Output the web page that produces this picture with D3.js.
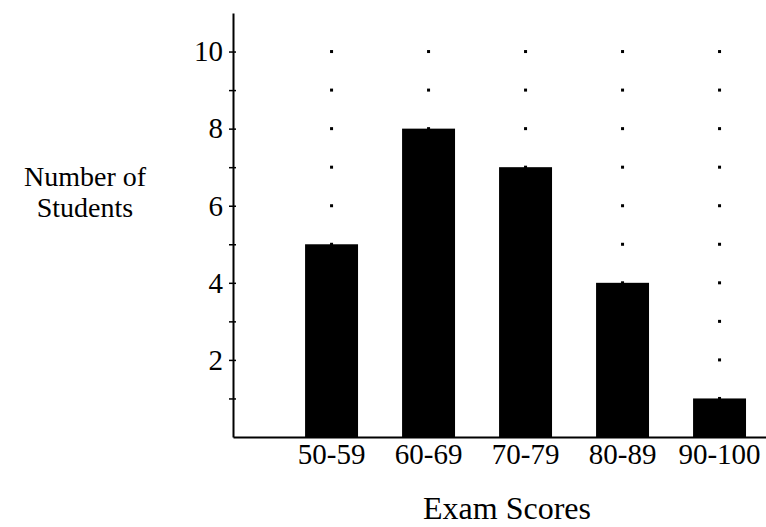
<!DOCTYPE html>
<html>
<head>
<meta charset="utf-8">
<script src="https://d3js.org/d3.v7.min.js"></script>
<style>
  body { margin: 0; background: #fff; }
  text { font-family: "Liberation Serif", "Times New Roman", serif; fill: #000; }
</style>
</head>
<body>
<script>
// Data
const categories = ["50-59", "60-69", "70-79", "80-89", "90-100"];
const counts     = [5, 8, 7, 4, 1];
const yTicks     = [1, 2, 3, 4, 5, 6, 7, 8, 9, 10];
const yLabels    = [2, 4, 6, 8, 10];
const yTitle     = ["Number of", "Students"];
const xTitle     = "Exam Scores";

const width  = 766;
const height = 527;

// Plot frame
const plotLeft   = 233;
const plotRight  = 766;
const plotBottom = 437;
const plotTop    = 13;

const svg = d3.select("body")
              .append("svg")
              .attr("width", width)
              .attr("height", height);

const x = d3.scaleBand()
            .domain(categories)
            .range([plotLeft, plotRight])
            .paddingInner(0.454)
            .paddingOuter(0.4745)
            .align(0.783);

const y = d3.scaleLinear()
            .domain([0, 11])
            .range([plotBottom, plotTop]);

const data = categories.map((c, i) => ({ cat: c, n: counts[i] }));

// dotted columns at each bar centre, one dot per unit
const dots = [];
categories.forEach(c => yTicks.forEach(v => dots.push({ cat: c, v: v })));
svg.append("g")
   .selectAll("rect")
   .data(dots)
   .join("rect")
   .attr("x", d => x(d.cat) + x.bandwidth() / 2 - 1.5)
   .attr("y", d => y(d.v) - 1.5)
   .attr("width", 3)
   .attr("height", 3)
   .attr("fill", "#000");

// bars
svg.append("g")
   .selectAll("rect")
   .data(data)
   .join("rect")
   .attr("x", d => x(d.cat))
   .attr("y", d => y(d.n))
   .attr("width", x.bandwidth())
   .attr("height", d => y(0) - y(d.n))
   .attr("fill", "#000");

// x axis
const xAxis = svg.append("g")
   .attr("transform", `translate(0,${plotBottom})`)
   .call(d3.axisBottom(x).tickSize(0).tickSizeOuter(0).tickPadding(6));
xAxis.select(".domain").attr("stroke-width", 2);
xAxis.selectAll("text").attr("font-size", 29);

// y axis
const yAxis = svg.append("g")
   .attr("transform", `translate(${plotLeft},0)`)
   .call(d3.axisLeft(y)
           .tickValues(yTicks)
           .tickSize(4)
           .tickSizeOuter(0)
           .tickPadding(6)
           .tickFormat(d => yLabels.includes(d) ? d : ""));
yAxis.select(".domain").attr("stroke-width", 2);
yAxis.selectAll(".tick line").attr("x1", 3).attr("stroke-width", 1.5);
yAxis.selectAll("text").attr("font-size", 29);

// axis titles
svg.append("g")
   .selectAll("text")
   .data(yTitle)
   .join("text")
   .attr("text-anchor", "middle")
   .attr("font-size", 28)
   .attr("x", 85)
   .attr("y", (d, i) => 186 + i * 31)
   .text(d => d);

svg.append("text")
   .attr("x", 507)
   .attr("y", 519)
   .attr("text-anchor", "middle")
   .attr("font-size", 32)
   .text(xTitle);
</script>
</body>
</html>
